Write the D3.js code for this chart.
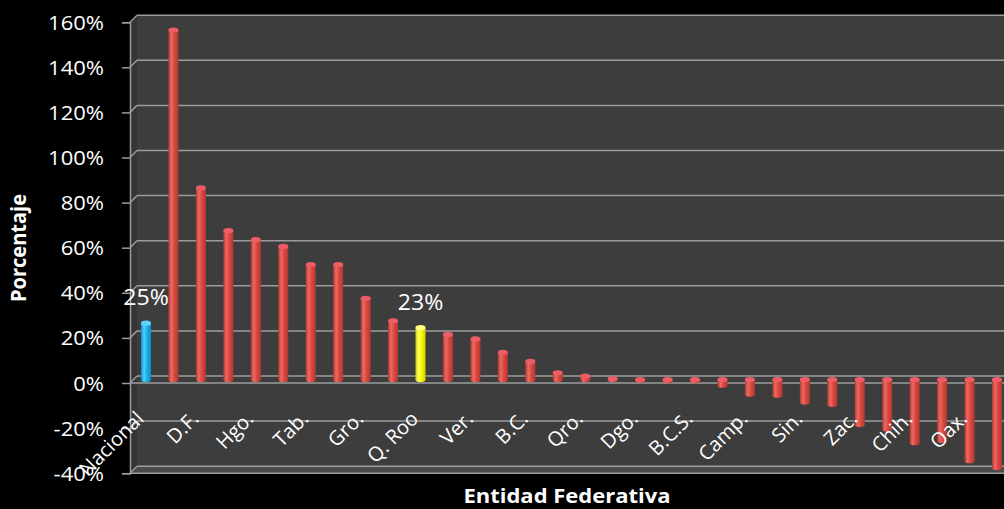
<!DOCTYPE html>
<html><head><meta charset="utf-8">
<script src="https://cdn.jsdelivr.net/npm/d3@7"></script>
<style>body{margin:0;background:#000}svg{display:block}</style>
</head><body>
<svg id="c" width="1004" height="509"></svg>
<script>
// ---- data ----
const categories = ["Nacional","Ags.","D.F.","Coah.","Hgo.","Col.","Tab.","Chis.","Gro.","Gto.","Q. Roo","Jal.","Ver.","Méx.","B.C.","Mich.","Qro.","Mor.","Dgo.","Nay.","B.C.S.","N.L.","Camp.","Pue.","Sin.","S.L.P.","Zac.","Son.","Chih.","Tamps.","Oax.","Tlax."];
const values = [25,155,85,66,62,59,51,51,36,26,23,20,18,12,8,3,1.5,0.3,-0.3,-0.5,-0.5,-2.5,-6.5,-7,-10,-11,-20,-22,-28,-27,-36,-39];
const nationalCategory = ["Nacional"];
const focusCategory = ["Q. Roo"];
const labelledCategories = ["Nacional","Q. Roo"];
const yTicks = [-40,-20,0,20,40,60,80,100,120,140,160];
const yTitle = "Porcentaje";
const xTitle = "Entidad Federativa";

// ---- layout ----
const W = 1004, H = 509;
const FONT = "'Open Sans', sans-serif";
const SX = 1.1;              // horizontal stretch of the original picture
const axisX = 130, depth = 7;
const svg = d3.select("#c");
svg.append("rect").attr("width", W).attr("height", H).attr("fill", "#000");

const y = d3.scaleLinear().domain([-40, 160]).range([473.2, 22.2]);
const x = d3.scalePoint().domain(categories).range([146, 997]);
const yMin = y.domain()[0], yMax = y.domain()[1];

// walls
const backLeft = axisX + depth;
svg.append("rect").attr("x", backLeft).attr("y", y(yMax) - depth)
  .attr("width", W - backLeft).attr("height", y(yMin) - y(yMax)).attr("fill", "#3d3d3d");
svg.append("polygon").attr("points", [[axisX, y(yMax)], [backLeft, y(yMax) - depth], [backLeft, y(yMin) - depth], [axisX, y(yMin)]].join(" "))
  .attr("fill", "#353535");
svg.append("polygon").attr("points", [[axisX, y(yMin)], [backLeft, y(yMin) - depth], [W, y(yMin) - depth], [W, y(yMin)]].join(" "))
  .attr("fill", "#4a4a4a");

// gridlines
const grid = svg.append("g").attr("stroke", "#9c9c9c").attr("stroke-width", 1.5).attr("fill", "none");
yTicks.forEach(t => {
  grid.append("line").attr("x1", backLeft).attr("x2", W).attr("y1", y(t) - depth).attr("y2", y(t) - depth);
  grid.append("line").attr("x1", axisX).attr("x2", backLeft).attr("y1", y(t)).attr("y2", y(t) - depth);
});
// front edges
grid.append("line").attr("x1", axisX).attr("x2", W).attr("y1", y(0)).attr("y2", y(0));
grid.append("line").attr("x1", axisX).attr("x2", W).attr("y1", y(yMin)).attr("y2", y(yMin));

// y axis with d3
const yAxis = d3.axisLeft(y).tickValues(yTicks).tickFormat(d => d + "%").tickSize(8).tickPadding(4);
const ya = svg.append("g").attr("transform", `translate(${axisX},0)`).call(yAxis);
ya.select(".domain").attr("stroke", "#9c9c9c").attr("stroke-width", 1.5);
ya.selectAll(".tick line").attr("stroke", "#9c9c9c").attr("stroke-width", 1.5);
ya.selectAll(".tick text").attr("fill", "#fff").attr("font-family", FONT).attr("font-size", 20)
  .attr("x", null).attr("dy", null).attr("text-anchor", "end")
  .attr("transform", `translate(-26,7) scale(${SX},1)`);

// gradients
const defs = svg.append("defs");
function grad(id, edge, mid, light) {
  const g = defs.append("linearGradient").attr("id", id).attr("x1", 0).attr("x2", 1).attr("y1", 0).attr("y2", 0);
  [[0, edge], [0.3, light], [0.6, mid], [1, edge]].forEach(([o, c]) => g.append("stop").attr("offset", o).attr("stop-color", c));
}
grad("gRed", "#b03833", "#d9473f", "#ec6a62");
grad("gBlue", "#0a8cc8", "#19b0e8", "#4fd0fa");
grad("gYel", "#d0d000", "#f6f600", "#ffff66");
function colorOf(c) {
  if (nationalCategory.includes(c)) return {g: "url(#gBlue)", cap: "#5fd4fb"};
  if (focusCategory.includes(c)) return {g: "url(#gYel)", cap: "#ffff80"};
  return {g: "url(#gRed)", cap: "#ee5c66"};
}

// bars (mid depth)
const bw = 10, ry = 2.6, half = depth / 2;
const data = categories.map((c, i) => ({c, v: values[i]}));
const bars = svg.append("g");
data.forEach(d => {
  const cx = x(d.c), col = colorOf(d.c);
  const y0 = y(0) - half, yv = y(d.v) - half;
  const top = Math.min(y0, yv), bot = Math.max(y0, yv);
  const g = bars.append("g");
  g.append("ellipse").attr("cx", cx).attr("cy", bot).attr("rx", bw / 2).attr("ry", ry).attr("fill", col.g);
  g.append("rect").attr("x", cx - bw / 2).attr("y", top).attr("width", bw).attr("height", bot - top).attr("fill", col.g);
  g.append("ellipse").attr("cx", cx).attr("cy", top).attr("rx", bw / 2).attr("ry", ry).attr("fill", col.cap);
});

// data labels
data.filter(d => labelledCategories.includes(d.c)).forEach(d => {
  svg.append("text").attr("transform", `translate(${x(d.c)},${y(d.v) - half - 18}) scale(${SX},1)`)
    .attr("text-anchor", "middle").attr("fill", "#fff").attr("font-family", FONT).attr("font-size", 21)
    .text(d3.format(".0f")(d.v) + "%");
});

// category labels (every other)
categories.forEach((c, i) => {
  if (i % 2 !== 0) return;
  svg.append("text").attr("transform", `translate(${x(c) - 1},420) rotate(-45)`)
    .attr("text-anchor", "end").attr("fill", "#fff").attr("font-family", FONT).attr("font-size", 20).text(c);
});

// axis titles
svg.append("text").attr("transform", `translate(567,503) scale(${SX},1)`).attr("text-anchor", "middle")
  .attr("fill", "#fff").attr("font-family", FONT).attr("font-weight", 700).attr("font-size", 20).text(xTitle);
svg.append("text").attr("transform", `translate(26,248) scale(${SX},1) rotate(-90)`).attr("text-anchor", "middle")
  .attr("fill", "#fff").attr("font-family", FONT).attr("font-weight", 700).attr("font-size", 20).text(yTitle);
</script>
</body></html>
